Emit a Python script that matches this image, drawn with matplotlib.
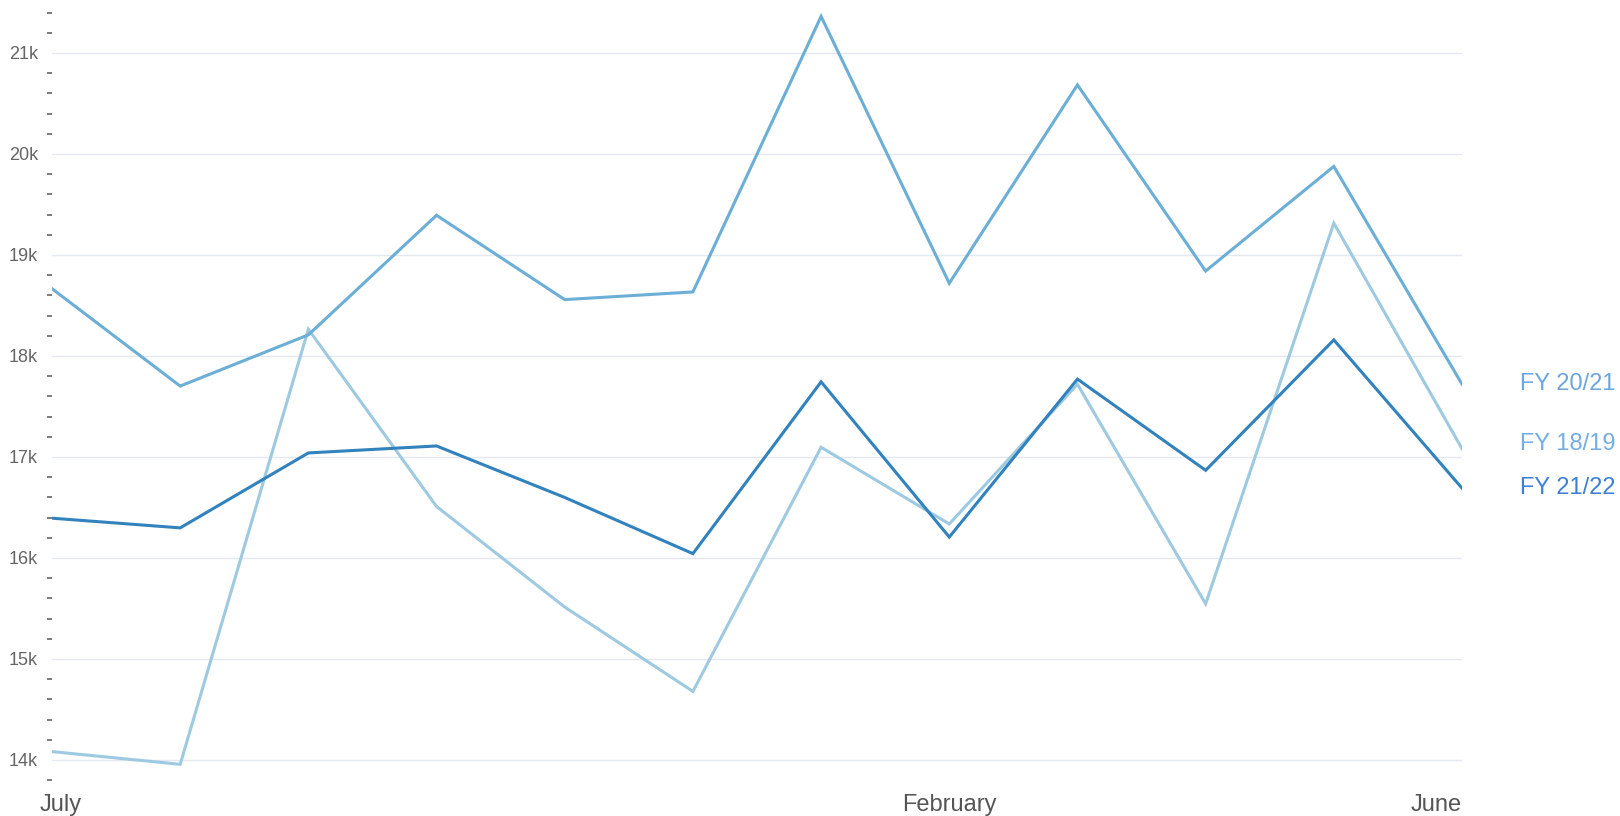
import matplotlib
matplotlib.use("Agg")
import matplotlib.pyplot as plt
import matplotlib.transforms as mtransforms
from matplotlib.ticker import FixedLocator, FuncFormatter

plt.rcParams['font.family'] = ['Liberation Sans', 'DejaVu Sans']

# months of the financial year (July .. June)
months = ["July", "August", "September", "October", "November", "December",
          "January", "February", "March", "April", "May", "June"]
shown_months = ["July", "February", "June"]

fy_18_19 = [14083, 13957, 18265, 16510, 15514, 14679, 17096, 16337, 17720, 15546, 19315, 17082]
fy_20_21 = [18666, 17702, 18209, 19393, 18558, 18634, 21362, 18720, 20684, 18841, 19877, 17721]
fy_21_22 = [16394, 16298, 17040, 17109, 16599, 16043, 17744, 16207, 17771, 16868, 18159, 16691]

series_names = ["FY 18/19", "FY 20/21", "FY 21/22"]
line_colors = ["#9ECAE1", "#6BAED6", "#3182BD"]
label_colors = ["#74AEE2", "#6BA6DE", "#3D7FD6"]
label_shift = [5, 0, 0]   # pixels, keeps the end labels apart

fig = plt.figure(figsize=(16.2, 8.16), dpi=100)
ax = fig.add_axes([52 / 1620, 0.0439, 1410 / 1620, 0.9407])

x = list(range(len(months)))
all_series = [fy_18_19, fy_20_21, fy_21_22]
for vals, col in zip(all_series, line_colors):
    ax.plot(x, vals, color=col, lw=2.2, solid_joinstyle='miter', zorder=3)

ax.set_xlim(0, len(months) - 1)
ax.set_ylim(13800, 21400)

# y axis: labelled thousands, small dashes every 200
majors = list(range(14000, 21001, 1000))
minors = [v for v in range(13800, 21401, 200) if v % 1000 != 0]
ax.yaxis.set_major_locator(FixedLocator(majors))
ax.yaxis.set_minor_locator(FixedLocator(minors))
ax.yaxis.set_major_formatter(FuncFormatter(lambda v, p: f"{int(v / 1000)}k"))
ax.tick_params(axis='y', which='major', length=0, pad=10, labelsize=13, labelcolor='#666666')
ax.tick_params(axis='y', which='minor', length=3.5, width=1.2, color='#666666', direction='out')
ax.grid(axis='y', which='major', color='#E3E8F1', lw=1)
ax.set_axisbelow(True)

# x axis: only a few month names
xt = [months.index(m) for m in shown_months]
ax.set_xticks(xt)
ax.set_xticklabels(shown_months, fontsize=17, color='#555555')
ax.tick_params(axis='x', length=0, pad=10)
lbls = ax.get_xticklabels()
lbls[0].set_ha('left')
lbls[0].set_transform(lbls[0].get_transform() + mtransforms.ScaledTranslation(-0.12, 0, fig.dpi_scale_trans))
lbls[-1].set_ha('right')

for s in ax.spines.values():
    s.set_visible(False)

# series names at the right end of each line
for name, vals, col, dy in zip(series_names, all_series, label_colors, label_shift):
    off = mtransforms.offset_copy(ax.transData, fig=fig, x=58, y=dy, units='dots')
    ax.text(x[-1], vals[-1], name, transform=off, fontsize=17, color=col,
            ha='left', va='center', clip_on=False)

fig.savefig("out.png", dpi=100)
